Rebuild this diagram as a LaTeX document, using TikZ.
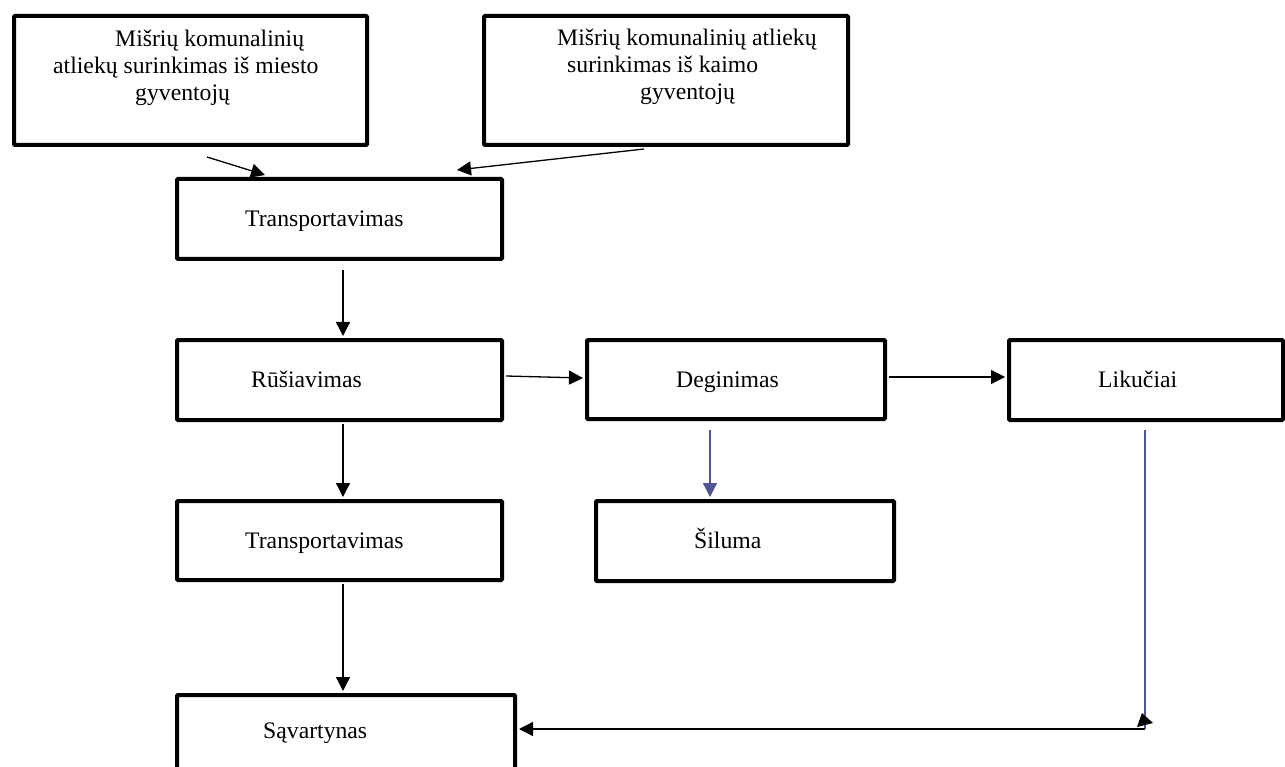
\documentclass[tikz,border=0pt]{standalone}
\usepackage{fontspec}
\setmainfont{Liberation Serif}
\usetikzlibrary{arrows.meta,calc}
\definecolor{linkblue}{RGB}{80,85,150}
\tikzset{
  box/.style={draw=black, line width=4pt, rounded corners=1pt, anchor=north west, inner sep=0pt},
  lbl/.style={anchor=base west, inner sep=0pt, font=\fontsize{23.7}{27.3}\selectfont},
  arr/.style={line width=1.3pt, -{Triangle[length=14pt,width=14pt]}},
  barr/.style={arr, draw=linkblue, -{Triangle[length=14pt,width=14pt,fill=linkblue]}},
  plain/.style={line width=1.3pt},
}
\begin{document}
\begin{tikzpicture}[x=1pt,y=-1pt]
\useasboundingbox (0,0) rectangle (1285,767);
\clip (0,0) rectangle (1285,767);
% boxes
\node[box, minimum width=353pt, minimum height=129pt] (b1) at (12,14) {};
\node[box, minimum width=364pt, minimum height=129pt] (b2) at (482,14) {};
\node[box, minimum width=325pt, minimum height=80pt] (t1) at (175,177) {};
\node[box, minimum width=325pt, minimum height=80pt] (rus) at (175,338) {};
\node[box, minimum width=298pt, minimum height=79pt] (deg) at (585,338) {};
\node[box, minimum width=274pt, minimum height=80pt] (lik) at (1007,338) {};
\node[box, minimum width=298pt, minimum height=80pt] (sil) at (594,499) {};
\node[box, minimum width=325pt, minimum height=79pt] (t2) at (175,499) {};
\node[box, minimum width=338pt, minimum height=97pt] (sav) at (175,693) {};
% texts
\node[lbl] (b1a) at (115,47) {Mišrių komunalinių};
\node[lbl] (b1b) at (53,74) {atliekų surinkimas iš miesto};
\node[lbl] (b1c) at (135,101) {gyventojų};
\node[lbl] (b2a) at (557,46) {Mišrių komunalinių atliekų};
\node[lbl] (b2b) at (567,73) {surinkimas iš kaimo};
\node[lbl] (b2c) at (640,100) {gyventojų};
\node[lbl] (t1t) at (245,227) {Transportavimas};
\node[lbl] (rust) at (251,387) {Rūšiavimas};
\node[lbl] (degt) at (676,387) {Deginimas};
\node[lbl] (likt) at (1098,387) {Likučiai};
\node[lbl] (silt) at (694,548) {Šiluma};
\node[lbl] (t2t) at (245,548) {Transportavimas};
\node[lbl] (savt) at (263,738) {Sąvartynas};
% connectors
\draw[arr] ($(b1.south)+(16.5,10)$) -- ($(t1.north)+(-74.5,-2)$);
\draw[arr] ($(b2.south)+(-22,2)$) -- ($(t1.north)+(117.5,-7)$);
\draw[arr] ($(t1.south)+(3.5,9)$) -- ($(rus.north)+(3.5,-2)$);
\draw[arr] ($(rus.east)+(2,-4)$) -- ($(deg.west)+(-2,-1.5)$);
\draw[arr] ($(deg.east)+(2,-2.5)$) -- ($(lik.west)+(-2,-3)$);
\draw[barr] ($(deg.south)+(-26,9)$) -- ($(sil.north)+(-35,-2)$);
\draw[arr] ($(rus.south)+(3.5,2)$) -- ($(t2.north)+(3.5,-2)$);
\draw[arr] ($(t2.south)+(3.5,2)$) -- ($(sav.north)+(-3,-2)$);
\coordinate (corner) at (1145,729);
\draw[plain, draw=linkblue] ([yshift=-8pt]corner |- lik.south) -- (corner);
\draw[arr] (corner) -- ([xshift=2pt]sav.east |- corner);
\fill ($(corner)+(-8,-2)$) -- ($(corner)+(-3,-16)$) -- ($(corner)+(8,-6)$) -- cycle;
\end{tikzpicture}
\end{document}
